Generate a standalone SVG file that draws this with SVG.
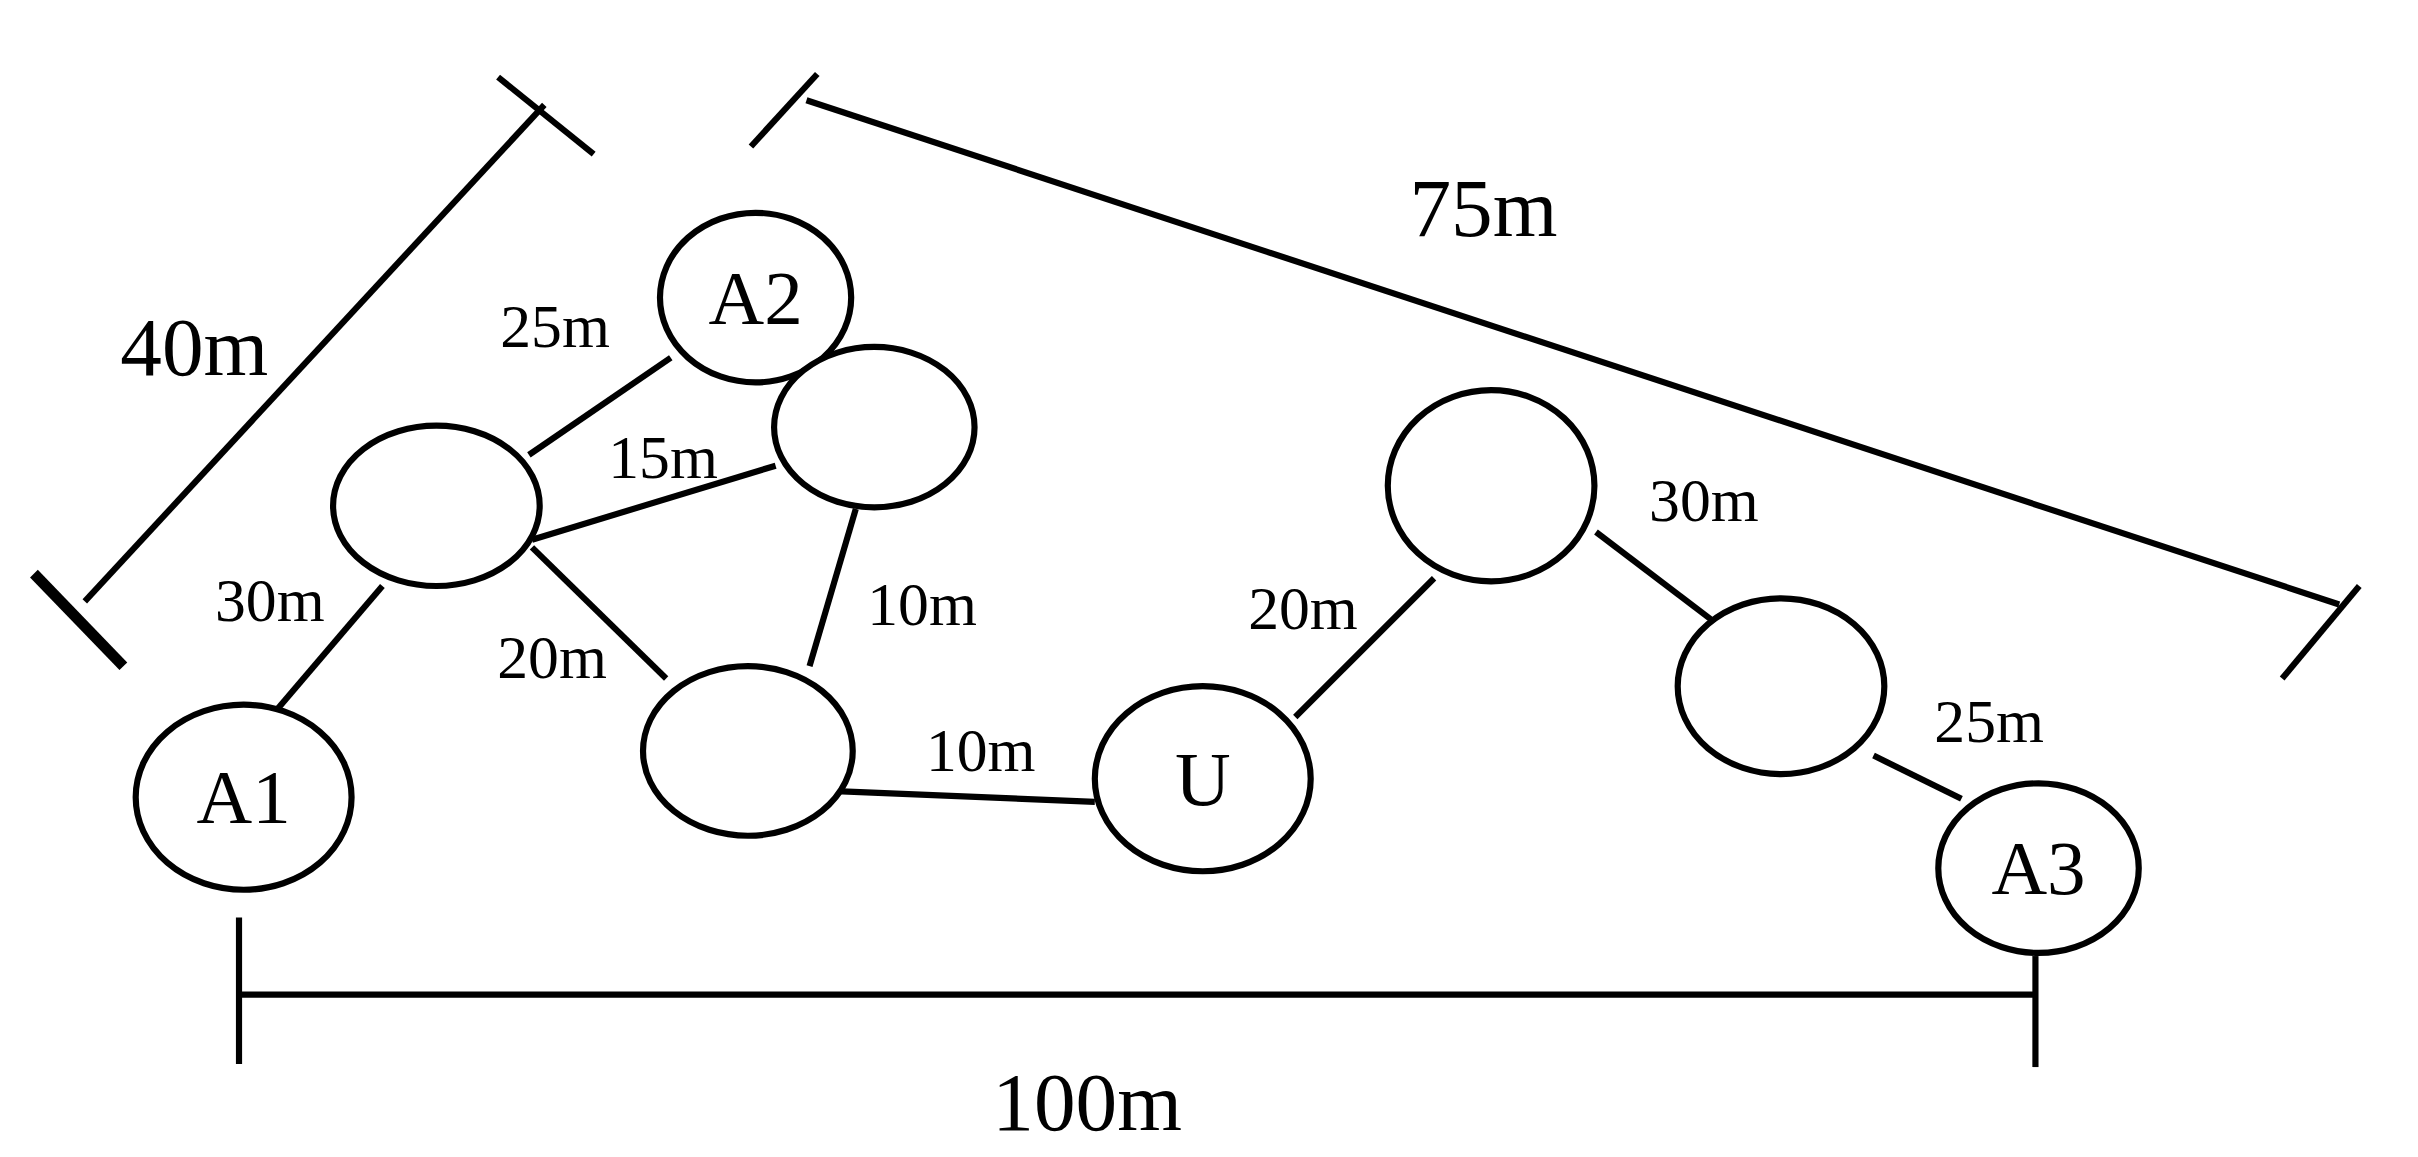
<svg xmlns="http://www.w3.org/2000/svg" width="2418" height="1157" viewBox="0 0 2418 1157">
<style>
.n{fill:#fff;stroke:#000;stroke-width:4}
.c line,.d line{stroke:#000;stroke-width:4}
.t{font-family:"Liberation Serif",serif;fill:#000;text-anchor:middle}
.s{font-size:40px}.b{font-size:50px}.m{font-size:54px}
</style>
<rect width="2418" height="1157" fill="#fff"/>
<g transform="scale(1.542)">
<g id="connectors" class="c">
<line x1="178" y1="462" x2="248" y2="380"/>
<line x1="343" y1="295" x2="435" y2="232"/>
<line x1="345" y1="350" x2="503" y2="302"/>
<line x1="345" y1="355" x2="432" y2="440"/>
<line x1="555" y1="330" x2="525" y2="432"/>
<line x1="542" y1="513" x2="710" y2="520"/>
<line x1="840" y1="465" x2="930" y2="375"/>
<line x1="1035" y1="345" x2="1110" y2="402"/>
<line x1="1215" y1="490" x2="1272" y2="518"/>
</g>
<g id="dimensions" class="d">
<line x1="55" y1="390" x2="353" y2="68"/>
<line x1="22" y1="372" x2="80" y2="432" style="stroke-width:7"/>
<line x1="323" y1="50" x2="385" y2="100"/>
<line x1="523" y1="65" x2="1517" y2="392"/>
<line x1="487" y1="95" x2="530" y2="48"/>
<line x1="1480" y1="440" x2="1530" y2="380"/>
<line x1="155" y1="645" x2="1320" y2="645"/>
<line x1="155" y1="595" x2="155" y2="690"/>
<line x1="1320" y1="620" x2="1320" y2="692"/>
<text class="t m" x="126" y="243">40m</text>
<text class="t m" x="962" y="153">75m</text>
<text class="t m" x="705" y="733">100m</text>
</g>
<g id="edge-labels">
<text class="t s" x="360" y="225">25m</text>
<text class="t s" x="430" y="310">15m</text>
<text class="t s" x="175" y="403">30m</text>
<text class="t s" x="358" y="440">20m</text>
<text class="t s" x="598" y="405">10m</text>
<text class="t s" x="636" y="500">10m</text>
<text class="t s" x="845" y="408">20m</text>
<text class="t s" x="1105" y="338">30m</text>
<text class="t s" x="1290" y="481">25m</text>
</g>
<g id="A2"><ellipse class="n" cx="490" cy="193" rx="62" ry="55"/><text class="t b" x="490" y="210">A2</text></g>
<g id="n1"><ellipse class="n" cx="567" cy="277" rx="65" ry="52"/></g>
<g id="n2"><ellipse class="n" cx="283" cy="328" rx="67" ry="52"/></g>
<g id="A1"><ellipse class="n" cx="158" cy="517" rx="70" ry="60"/><text class="t b" x="158" y="534">A1</text></g>
<g id="n3"><ellipse class="n" cx="485" cy="487" rx="68" ry="55"/></g>
<g id="U"><ellipse class="n" cx="780" cy="505" rx="70" ry="60"/><text class="t b" x="780" y="522">U</text></g>
<g id="n4"><ellipse class="n" cx="967" cy="315" rx="67" ry="62"/></g>
<g id="n5"><ellipse class="n" cx="1155" cy="445" rx="67" ry="57"/></g>
<g id="A3"><ellipse class="n" cx="1322" cy="563" rx="65" ry="55"/><text class="t b" x="1322" y="580">A3</text></g>
</g>
</svg>
